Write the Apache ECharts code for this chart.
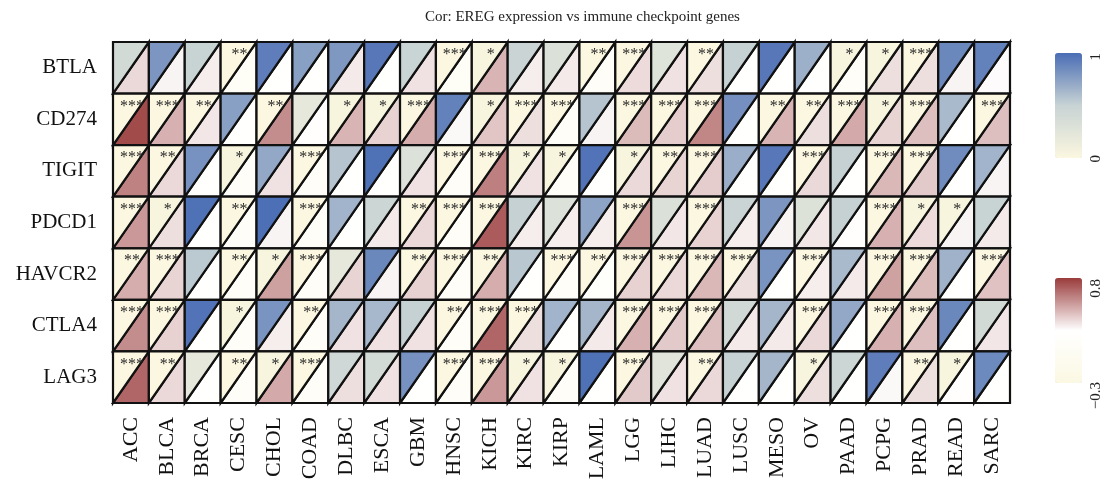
<!DOCTYPE html>
<html>
<head>
<meta charset="utf-8">
<script src="https://cdn.jsdelivr.net/npm/echarts@6/dist/echarts.min.js"></script>
<style>
  html, body { margin: 0; padding: 0; background: #ffffff; }
  #chart { width: 1105px; height: 491px; }
</style>
</head>
<body>
<div id="chart"></div>
<script>
// TCGA cancer types (columns) and immune checkpoint genes (rows)
const cancerTypes = ['ACC', 'BLCA', 'BRCA', 'CESC', 'CHOL', 'COAD', 'DLBC', 'ESCA', 'GBM', 'HNSC',
  'KICH', 'KIRC', 'KIRP', 'LAML', 'LGG', 'LIHC', 'LUAD', 'LUSC', 'MESO', 'OV',
  'PAAD', 'PCPG', 'PRAD', 'READ', 'SARC'];
const checkpointGenes = ['BTLA', 'CD274', 'TIGIT', 'PDCD1', 'HAVCR2', 'CTLA4', 'LAG3'];

// p-values of the correlation, one array per gene (order of cancerTypes)
const pBTLA   = [0.40, 0.80, 0.50, 0.004, 0.92, 0.75, 0.79, 0.95, 0.49, 0.0004, 0.03, 0.48, 0.31, 0.004, 0.0004, 0.27, 0.004, 0.51, 0.95, 0.67, 0.03, 0.03, 0.0004, 0.87, 0.90];
const pCD274  = [0.0004, 0.0004, 0.004, 0.75, 0.004, 0.21, 0.03, 0.03, 0.0004, 0.90, 0.03, 0.0004, 0.0004, 0.575, 0.0004, 0.0004, 0.0004, 0.83, 0.004, 0.004, 0.0004, 0.03, 0.0004, 0.625, 0.0004];
const pTIGIT  = [0.0004, 0.004, 0.82, 0.03, 0.71, 0.0004, 0.575, 0.98, 0.30, 0.0004, 0.0004, 0.03, 0.03, 0.97, 0.03, 0.004, 0.0004, 0.68, 0.95, 0.0004, 0.51, 0.0004, 0.0004, 0.85, 0.65];
const pPDCD1  = [0.0004, 0.03, 0.98, 0.004, 0.99, 0.0004, 0.65, 0.46, 0.004, 0.0004, 0.0004, 0.51, 0.30, 0.73, 0.0004, 0.31, 0.0004, 0.48, 0.80, 0.29, 0.51, 0.0004, 0.03, 0.03, 0.50];
const pHAVCR2 = [0.004, 0.0004, 0.55, 0.004, 0.03, 0.0004, 0.21, 0.87, 0.004, 0.0004, 0.004, 0.56, 0.0004, 0.004, 0.0004, 0.0004, 0.0004, 0.0004, 0.81, 0.0004, 0.625, 0.0004, 0.0004, 0.66, 0.0004];
const pCTLA4  = [0.0004, 0.0004, 0.97, 0.03, 0.81, 0.004, 0.64, 0.63, 0.51, 0.004, 0.0004, 0.0004, 0.65, 0.64, 0.0004, 0.0004, 0.0004, 0.41, 0.64, 0.0004, 0.71, 0.0004, 0.0004, 0.87, 0.40];
const pLAG3   = [0.0004, 0.004, 0.21, 0.004, 0.03, 0.0004, 0.43, 0.39, 0.82, 0.0004, 0.0004, 0.03, 0.03, 0.98, 0.0004, 0.26, 0.004, 0.51, 0.64, 0.03, 0.46, 0.92, 0.004, 0.03, 0.86];

// Correlation coefficients with EREG expression, one array per gene
const rBTLA   = [0.36, 0.28, 0.30, 0.08, 0.22, 0.22, 0.31, 0.22, 0.33, 0.08, 0.46, 0.30, 0.31, 0.12, 0.35, 0.33, 0.34, 0.22, 0.22, 0.23, 0.12, 0.34, 0.34, 0.28, 0.26];
const rCD274  = [0.755, 0.47, 0.32, 0.22, 0.57, 0.20, 0.46, 0.375, 0.48, 0.27, 0.41, 0.34, 0.10, 0.28, 0.44, 0.39, 0.59, 0.22, 0.46, 0.34, 0.49, 0.37, 0.43, 0.22, 0.43];
const rTIGIT  = [0.60, 0.36, 0.22, 0.10, 0.33, 0.10, 0.22, 0.22, 0.33, 0.10, 0.61, 0.33, 0.12, 0.22, 0.36, 0.37, 0.39, 0.22, 0.22, 0.36, 0.22, 0.45, 0.40, 0.22, 0.28];
const rPDCD1  = [0.54, 0.34, 0.22, 0.10, 0.28, 0.10, 0.22, 0.31, 0.36, 0.10, 0.71, 0.30, 0.30, 0.30, 0.55, 0.32, 0.375, 0.30, 0.28, 0.32, 0.20, 0.47, 0.35, 0.28, 0.31];
const rHAVCR2 = [0.48, 0.37, 0.22, 0.10, 0.515, 0.10, 0.37, 0.28, 0.38, 0.10, 0.48, 0.22, 0.12, 0.15, 0.38, 0.36, 0.45, 0.34, 0.22, 0.30, 0.31, 0.51, 0.44, 0.22, 0.42];
const rCTLA4  = [0.57, 0.38, 0.22, 0.10, 0.30, 0.12, 0.33, 0.33, 0.33, 0.10, 0.68, 0.34, 0.22, 0.31, 0.47, 0.40, 0.43, 0.31, 0.31, 0.36, 0.22, 0.47, 0.43, 0.22, 0.32];
const rLAG3   = [0.68, 0.36, 0.22, 0.10, 0.49, 0.10, 0.34, 0.33, 0.22, 0.10, 0.54, 0.33, 0.12, 0.22, 0.40, 0.33, 0.36, 0.23, 0.22, 0.34, 0.22, 0.27, 0.34, 0.20, 0.22];

// Colour-bar ranges and their end labels
const pRange = [0, 1];
const rRange = [-0.3, 0.8];
const pLegendLabels = ['1', '0'];
const rLegendLabels = ['0.8', '\u22120.3'];

const pRows = [pBTLA, pCD274, pTIGIT, pPDCD1, pHAVCR2, pCTLA4, pLAG3];
const rRows = [rBTLA, rCD274, rTIGIT, rPDCD1, rHAVCR2, rCTLA4, rLAG3];

function stars(p) {
  if (p < 0.001) return '***';
  if (p < 0.01) return '**';
  if (p < 0.05) return '*';
  return '';
}

const pData = [];
const rData = [];
pRows.forEach((row, gi) => row.forEach((p, ci) => pData.push([ci, gi, p])));
rRows.forEach((row, gi) => row.forEach((r, ci) => rData.push([ci, gi, r])));

const SERIF = '"Liberation Serif", "DejaVu Serif", serif';
const LINE = '#111111';

function cellBox(api) {
  const c = api.coord([api.value(0), api.value(1)]);
  const s = api.size([1, 1]);
  return { x0: c[0] - s[0] / 2, x1: c[0] + s[0] / 2, y0: c[1] - s[1] / 2, y1: c[1] + s[1] / 2, cx: c[0] };
}

// upper-left triangle: p-value colour plus significance stars
function renderUpper(params, api) {
  const b = cellBox(api);
  const p = api.value(2);
  return {
    type: 'group',
    children: [
      {
        type: 'polygon',
        shape: { points: [[b.x0, b.y0], [b.x1, b.y0], [b.x0, b.y1]] },
        style: { fill: api.visual('color'), stroke: LINE, lineWidth: 2.2 }
      },
      {
        type: 'text',
        z2: 10,
        style: {
          text: stars(p),
          x: b.cx + 1,
          y: b.y0 + 13,
          textAlign: 'center',
          textVerticalAlign: 'middle',
          fill: '#2a2a2a',
          font: '16px ' + SERIF
        }
      }
    ]
  };
}

// lower-right triangle: correlation colour
function renderLower(params, api) {
  const b = cellBox(api);
  return {
    type: 'polygon',
    shape: { points: [[b.x1, b.y0], [b.x1, b.y1], [b.x0, b.y1]] },
    style: { fill: api.visual('color'), stroke: LINE, lineWidth: 2.2 }
  };
}

function legendText(text, x, y) {
  return {
    type: 'text',
    x: x, y: y,
    rotation: Math.PI / 2,
    style: { text: text, textAlign: 'right', textVerticalAlign: 'middle', fill: '#222', font: '15px ' + SERIF }
  };
}

const chart = echarts.init(document.getElementById('chart'), null, { renderer: 'canvas' });
chart.setOption({
  backgroundColor: '#ffffff',
  animation: false,
  title: {
    text: 'Cor: EREG expression vs immune checkpoint genes',
    left: 420, top: 5,
    textStyle: { fontFamily: SERIF, fontWeight: 'normal', fontSize: 15, color: '#222' }
  },
  grid: { left: 113, right: 95, top: 42, bottom: 88 },
  xAxis: {
    type: 'category',
    data: cancerTypes,
    axisTick: { show: false },
    axisLine: { show: true, lineStyle: { color: LINE, width: 2 } },
    axisLabel: { rotate: 90, margin: 14, fontFamily: SERIF, fontSize: 22, color: '#111' },
    splitLine: { show: false }
  },
  yAxis: {
    type: 'category',
    data: checkpointGenes,
    inverse: true,
    axisTick: { show: false },
    axisLine: { show: true, lineStyle: { color: LINE, width: 2 } },
    axisLabel: { margin: 16, fontFamily: SERIF, fontSize: 21, color: '#111' },
    splitLine: { show: false }
  },
  visualMap: [
    {
      type: 'continuous', seriesIndex: 0, dimension: 2,
      min: pRange[0], max: pRange[1],
      orient: 'vertical', left: 1040, top: 38,
      itemWidth: 27, itemHeight: 105, calculable: false,
      inRange: { color: ['#FBF7E0', '#C8D3D4', '#4A6DB5'] }
    },
    {
      type: 'continuous', seriesIndex: 1, dimension: 2,
      min: rRange[0], max: rRange[1],
      orient: 'vertical', left: 1040, top: 263,
      itemWidth: 27, itemHeight: 105, calculable: false,
      inRange: { color: ['#FBF8E3', '#FFFFFF', '#9A3B3B'] }
    }
  ],
  graphic: [
    legendText(pLegendLabels[0], 1096, 53),
    legendText(pLegendLabels[1], 1096, 155),
    legendText(rLegendLabels[0], 1096, 279),
    legendText(rLegendLabels[1], 1096, 382)
  ],
  series: [
    { type: 'custom', name: 'p', data: pData, encode: { x: 0, y: 1 }, renderItem: renderUpper, z: 3 },
    { type: 'custom', name: 'cor', data: rData, encode: { x: 0, y: 1 }, renderItem: renderLower, z: 2 }
  ]
});
</script>
</body>
</html>
